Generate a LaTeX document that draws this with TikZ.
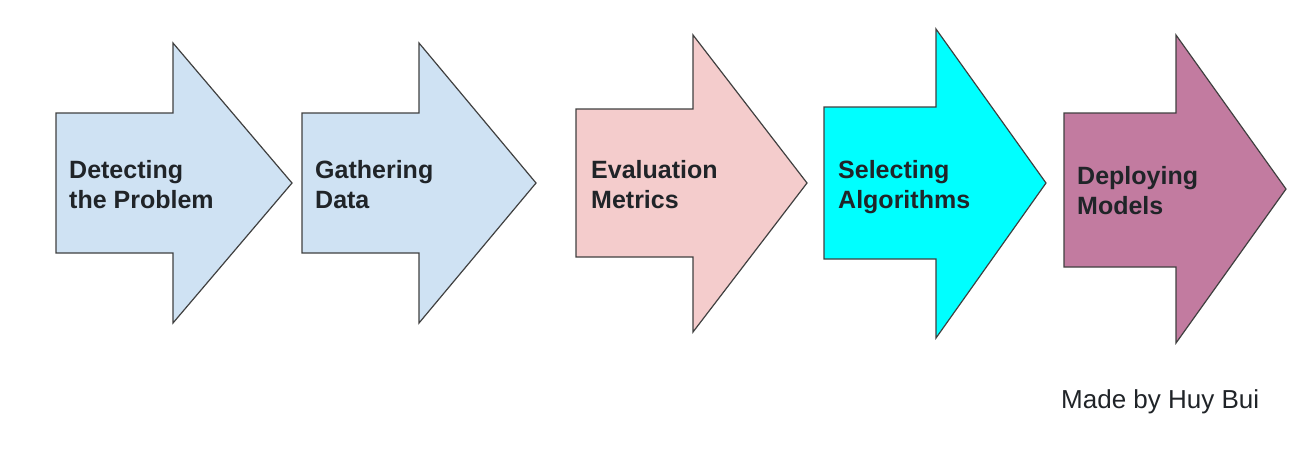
\documentclass[tikz,border=0pt]{standalone}
\usepackage{fontspec}
\setmainfont{Liberation Sans}
\definecolor{pastelblue}{HTML}{CFE2F3}
\definecolor{pastelred}{HTML}{F4CCCC}
\definecolor{brightcyan}{HTML}{00FFFF}
\definecolor{mauve}{HTML}{C27BA0}
\definecolor{edgegray}{HTML}{404040}
\definecolor{labelgray}{HTML}{202428}
\tikzset{
  stagearrow/.style={draw=edgegray, line width=1.2pt, line join=miter},
  stagelabel/.style={anchor=base west, align=left, inner sep=0pt, text=labelgray,
    font=\fontsize{25}{30}\selectfont\bfseries},
  credit/.style={anchor=base west, inner sep=0pt, text=labelgray,
    font=\fontsize{26}{30}\selectfont}
}

\begin{document}
\begin{tikzpicture}[x=1pt,y=-1pt]
  \useasboundingbox (0,0) rectangle (1309,475);
  % the five stages
  \foreach \lx/\bt/\bb/\hx/\ht/\hb/\tx/\ty/\col in {
      56/113/253/173/43/323/292/183/pastelblue,
      302/113/253/419/43/323/536/183/pastelblue,
      576/109/257/693/35/332/807/183/pastelred,
      824/107/259/936/29/338/1046/183/brightcyan,
      1064/113/267/1176/35/343/1286/189/mauve}
    \draw[stagearrow, fill=\col] (\lx,\bt) -- (\hx,\bt) -- (\hx,\ht) -- (\tx,\ty)
      -- (\hx,\hb) -- (\hx,\bb) -- (\lx,\bb) -- cycle;
  % labels, placed at the baseline of their last line
  \node[stagelabel] (detect) at (69,208) {Detecting\\the Problem};
  \node[stagelabel] (gather) at (315,208) {Gathering\\Data};
  \node[stagelabel] (metrics) at (591,208) {Evaluation\\Metrics};
  \node[stagelabel] (select) at (838,208) {Selecting\\Algorithms};
  \node[stagelabel] (deploy) at (1077,214) {Deploying\\Models};
  \node[credit] (madeby) at (1061,408) {Made by Huy Bui};
\end{tikzpicture}
\end{document}
